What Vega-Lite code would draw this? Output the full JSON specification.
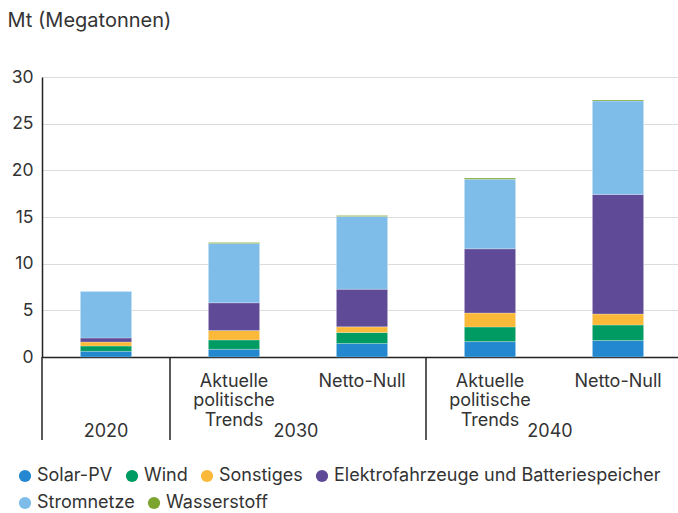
{
  "$schema": "https://vega.github.io/schema/vega-lite/v6.json",
  "width": 636,
  "height": 280,
  "autosize": {"type": "none"},
  "padding": {"left": 42, "top": 77, "right": 0, "bottom": 156},
  "background": "white",
  "config": {
    "font": "Inter",
    "view": {"stroke": null},
    "axis": {"labelFont": "Inter", "titleFont": "Inter", "labelColor": "#333", "titleColor": "#333"},
    "legend": {
      "labelFont": "Inter",
      "orient": "none",
      "direction": "horizontal",
      "title": null,
      "padding": 0,
      "symbolType": "circle",
      "symbolSize": 150,
      "symbolStrokeWidth": 0,
      "symbolOpacity": 1,
      "labelFontSize": 18,
      "labelColor": "#333",
      "labelOffset": 3,
      "labelLimit": 0,
      "columnPadding": 10
    }
  },
  "datasets": {
    "investitionen": [
      {"Balken": "2020", "Kategorie": "Solar-PV", "Wert": 0.61},
      {"Balken": "2020", "Kategorie": "Wind", "Wert": 0.57},
      {"Balken": "2020", "Kategorie": "Sonstiges", "Wert": 0.43},
      {"Balken": "2020", "Kategorie": "Elektrofahrzeuge und Batteriespeicher", "Wert": 0.43},
      {"Balken": "2020", "Kategorie": "Stromnetze", "Wert": 5.0},
      {"Balken": "2020", "Kategorie": "Wasserstoff", "Wert": 0.01},
      {"Balken": "2030 Aktuelle politische Trends", "Kategorie": "Solar-PV", "Wert": 0.83},
      {"Balken": "2030 Aktuelle politische Trends", "Kategorie": "Wind", "Wert": 1.0},
      {"Balken": "2030 Aktuelle politische Trends", "Kategorie": "Sonstiges", "Wert": 1.01},
      {"Balken": "2030 Aktuelle politische Trends", "Kategorie": "Elektrofahrzeuge und Batteriespeicher", "Wert": 2.97},
      {"Balken": "2030 Aktuelle politische Trends", "Kategorie": "Stromnetze", "Wert": 6.36},
      {"Balken": "2030 Aktuelle politische Trends", "Kategorie": "Wasserstoff", "Wert": 0.11},
      {"Balken": "2030 Netto-Null", "Kategorie": "Solar-PV", "Wert": 1.44},
      {"Balken": "2030 Netto-Null", "Kategorie": "Wind", "Wert": 1.19},
      {"Balken": "2030 Netto-Null", "Kategorie": "Sonstiges", "Wert": 0.6},
      {"Balken": "2030 Netto-Null", "Kategorie": "Elektrofahrzeuge und Batteriespeicher", "Wert": 4.03},
      {"Balken": "2030 Netto-Null", "Kategorie": "Stromnetze", "Wert": 7.79},
      {"Balken": "2030 Netto-Null", "Kategorie": "Wasserstoff", "Wert": 0.1},
      {"Balken": "2040 Aktuelle politische Trends", "Kategorie": "Solar-PV", "Wert": 1.65},
      {"Balken": "2040 Aktuelle politische Trends", "Kategorie": "Wind", "Wert": 1.57},
      {"Balken": "2040 Aktuelle politische Trends", "Kategorie": "Sonstiges", "Wert": 1.5},
      {"Balken": "2040 Aktuelle politische Trends", "Kategorie": "Elektrofahrzeuge und Batteriespeicher", "Wert": 6.87},
      {"Balken": "2040 Aktuelle politische Trends", "Kategorie": "Stromnetze", "Wert": 7.45},
      {"Balken": "2040 Aktuelle politische Trends", "Kategorie": "Wasserstoff", "Wert": 0.14},
      {"Balken": "2040 Netto-Null", "Kategorie": "Solar-PV", "Wert": 1.76},
      {"Balken": "2040 Netto-Null", "Kategorie": "Wind", "Wert": 1.67},
      {"Balken": "2040 Netto-Null", "Kategorie": "Sonstiges", "Wert": 1.18},
      {"Balken": "2040 Netto-Null", "Kategorie": "Elektrofahrzeuge und Batteriespeicher", "Wert": 12.81},
      {"Balken": "2040 Netto-Null", "Kategorie": "Stromnetze", "Wert": 10.01},
      {"Balken": "2040 Netto-Null", "Kategorie": "Wasserstoff", "Wert": 0.11}
    ]
  },
  "resolve": {"scale": {"x": "independent", "color": "independent"}},
  "layer": [
    {
      "data": {"name": "investitionen"},
      "transform": [
        {"calculate": "indexof(['Solar-PV', 'Wind', 'Sonstiges', 'Elektrofahrzeuge und Batteriespeicher', 'Stromnetze', 'Wasserstoff'], datum.Kategorie)", "as": "Stapelfolge"},
        {"stack": "Wert", "groupby": ["Balken"], "sort": [{"field": "Stapelfolge", "order": "ascending"}], "as": ["von", "bis"]},
        {"filter": {"field": "Kategorie", "oneOf": ["Solar-PV", "Wind", "Sonstiges", "Elektrofahrzeuge und Batteriespeicher"]}}
      ],
      "mark": {"type": "bar", "stroke": "white", "strokeWidth": 0.4, "strokeOpacity": 0.6},
      "encoding": {
        "x": {
          "field": "Balken",
          "type": "nominal",
          "sort": ["2020", "2030 Aktuelle politische Trends", "2030 Netto-Null", "2040 Aktuelle politische Trends", "2040 Netto-Null"],
          "scale": {
            "domain": ["2020", "2030 Aktuelle politische Trends", "2030 Netto-Null", "2040 Aktuelle politische Trends", "2040 Netto-Null"],
            "range": [0, 640],
            "paddingInner": 0.6,
            "paddingOuter": 0.3
          },
          "axis": {
            "title": null,
            "labelExpr": "split(slice(datum.value, 5), ' ')",
            "labelAngle": 0,
            "labelAlign": "center",
            "labelBaseline": "top",
            "labelFontSize": 18,
            "labelLineHeight": 19.5,
            "labelPadding": 15,
            "labelLimit": 0,
            "labelOverlap": false,
            "ticks": false,
            "grid": false,
            "domainColor": "#222",
            "domainWidth": 1.5
          }
        },
        "y": {
          "field": "von",
          "type": "quantitative",
          "scale": {"domain": [0, 30], "nice": false},
          "axis": {
            "values": [0, 5, 10, 15, 20, 25, 30],
            "title": "Mt (Megatonnen)",
            "titleAngle": 0,
            "titleX": -35,
            "titleY": -51,
            "titleAlign": "left",
            "titleBaseline": "alphabetic",
            "titleFontSize": 20,
            "titleFontWeight": "normal",
            "labelFontSize": 17.5,
            "labelPadding": 9,
            "ticks": false,
            "domainColor": "#222",
            "domainWidth": 1.5,
            "gridColor": "#dcdcdc",
            "gridWidth": 1.2
          }
        },
        "y2": {"field": "bis"},
        "color": {
          "field": "Kategorie",
          "type": "nominal",
          "scale": {
            "domain": ["Solar-PV", "Wind", "Sonstiges", "Elektrofahrzeuge und Batteriespeicher"],
            "range": ["#2388cf", "#009b62", "#fbb93a", "#5f4a98"]
          },
          "legend": {"legendX": -26, "legendY": 390}
        }
      }
    },
    {
      "data": {"name": "investitionen"},
      "transform": [
        {"calculate": "indexof(['Solar-PV', 'Wind', 'Sonstiges', 'Elektrofahrzeuge und Batteriespeicher', 'Stromnetze', 'Wasserstoff'], datum.Kategorie)", "as": "Stapelfolge"},
        {"stack": "Wert", "groupby": ["Balken"], "sort": [{"field": "Stapelfolge", "order": "ascending"}], "as": ["von", "bis"]},
        {"filter": {"field": "Kategorie", "oneOf": ["Stromnetze", "Wasserstoff"]}}
      ],
      "mark": {"type": "bar", "stroke": "white", "strokeWidth": 0.4, "strokeOpacity": 0.6},
      "encoding": {
        "x": {
          "field": "Balken",
          "type": "nominal",
          "scale": {
            "domain": ["2020", "2030 Aktuelle politische Trends", "2030 Netto-Null", "2040 Aktuelle politische Trends", "2040 Netto-Null"],
            "range": [0, 640],
            "paddingInner": 0.6,
            "paddingOuter": 0.3
          },
          "axis": null
        },
        "y": {"field": "von", "type": "quantitative"},
        "y2": {"field": "bis"},
        "color": {
          "field": "Kategorie",
          "type": "nominal",
          "scale": {
            "domain": ["Stromnetze", "Wasserstoff"],
            "range": ["#7ebde9", "#7ca52f"]
          },
          "legend": {"legendX": -26, "legendY": 417}
        }
      }
    },
    {
      "data": {
        "values": [
          {"Balken": "2020"},
          {"Balken": "2030 Aktuelle politische Trends"},
          {"Balken": "2040 Aktuelle politische Trends"}
        ]
      },
      "mark": {"type": "rule", "color": "#222", "strokeWidth": 1.5},
      "encoding": {
        "x": {
          "field": "Balken",
          "type": "nominal",
          "bandPosition": 0,
          "scale": {
            "domain": ["2020", "2030 Aktuelle politische Trends", "2030 Netto-Null", "2040 Aktuelle politische Trends", "2040 Netto-Null"],
            "range": [0, 640],
            "paddingInner": 0,
            "paddingOuter": 0
          },
          "axis": null
        },
        "y": {"datum": 0, "type": "quantitative"},
        "y2": {"datum": -8.9}
      }
    },
    {
      "data": {"values": [{"Balken": "2020", "Jahr": "2020"}]},
      "mark": {"type": "text", "fontSize": 18, "color": "#333", "align": "center", "baseline": "alphabetic"},
      "encoding": {
        "x": {
          "field": "Balken",
          "type": "nominal",
          "scale": {
            "type": "band",
            "domain": ["2020", "2030 Aktuelle politische Trends", "2030 Netto-Null", "2040 Aktuelle politische Trends", "2040 Netto-Null"],
            "range": [0, 640],
            "paddingInner": 0,
            "paddingOuter": 0
          },
          "axis": null
        },
        "y": {"datum": -8.6, "type": "quantitative"},
        "text": {"field": "Jahr"}
      }
    },
    {
      "data": {
        "values": [
          {"Balken": "2030 Netto-Null", "Jahr": "2030"},
          {"Balken": "2040 Netto-Null", "Jahr": "2040"}
        ]
      },
      "mark": {"type": "text", "fontSize": 18, "color": "#333", "align": "center", "baseline": "alphabetic"},
      "encoding": {
        "x": {
          "field": "Balken",
          "type": "nominal",
          "scale": {
            "type": "point",
            "domain": ["2020", "2030 Aktuelle politische Trends", "2030 Netto-Null", "2040 Aktuelle politische Trends", "2040 Netto-Null"],
            "range": [0, 508],
            "padding": 0
          },
          "axis": null
        },
        "y": {"datum": -8.6, "type": "quantitative"},
        "text": {"field": "Jahr"}
      }
    }
  ]
}
